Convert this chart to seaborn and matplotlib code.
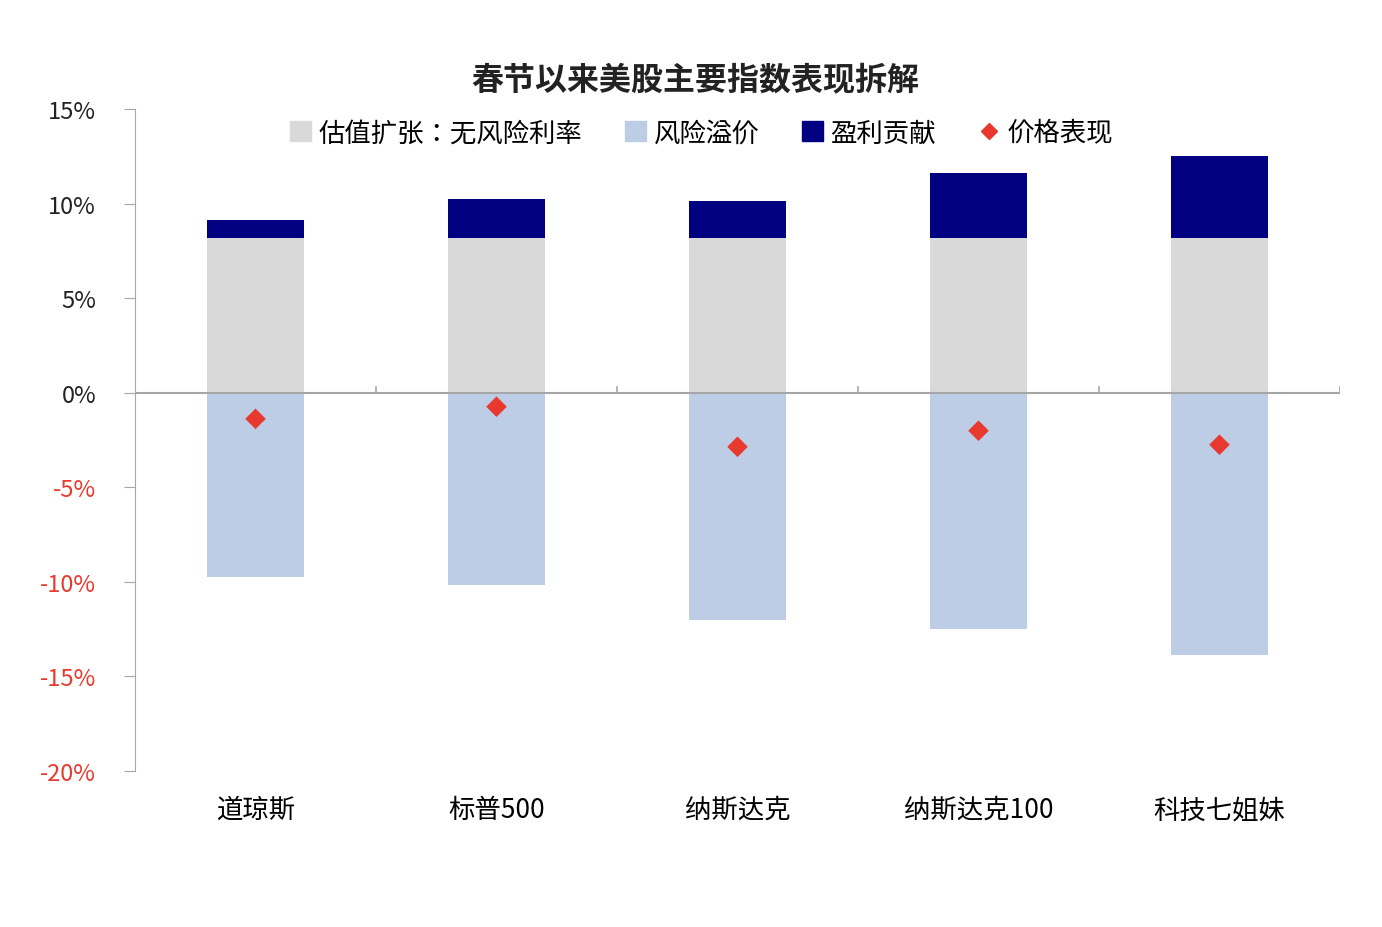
import matplotlib
matplotlib.use("Agg")
import matplotlib.pyplot as plt
from matplotlib import font_manager as fm
import seaborn as sns
import numpy as np
from matplotlib.lines import Line2D
from matplotlib.patches import Patch

cjk = None
for f in fm.fontManager.ttflist:
    if "CJK" in f.name and ("SC" in f.name or cjk is None):
        cjk = f.name
for f in fm.findSystemFonts():
    if cjk is None and "CJK" in f:
        fm.fontManager.addfont(f)
        cjk = fm.FontProperties(fname=f).get_name()
plt.rcParams["font.family"] = [cjk or "Noto Sans CJK SC", "DejaVu Sans"]
plt.rcParams["axes.unicode_minus"] = False

categories = ["道琼斯", "标普500", "纳斯达克", "纳斯达克100", "科技七姐妹"]
rate_part = [8.2, 8.2, 8.2, 8.2, 8.2]
risk_premium = [-9.74, -10.16, -12.0, -12.49, -13.86]
earnings = [0.95, 2.06, 1.96, 3.44, 4.29]
price = [-1.38, -0.74, -2.86, -2.01, -2.75]
yticks = [-20, -15, -10, -5, 0, 5, 10, 15]

C_GRAY, C_BLUE, C_NAVY, C_RED = "#d9d9d9", "#bdcde5", "#000080", "#e8392e"

fig = plt.figure(figsize=(13.82, 9.28), dpi=100)
ax = fig.add_axes([135/1382, 1-772/928, (1340-135)/1382, (772-110)/928])
x = np.arange(len(categories))
sns.barplot(x=categories, y=rate_part, color=C_GRAY, width=0.4, ax=ax, saturation=1)
sns.barplot(x=categories, y=risk_premium, color=C_BLUE, width=0.4, ax=ax, saturation=1)
sns.barplot(x=categories, y=earnings, bottom=rate_part, color=C_NAVY, width=0.4, ax=ax, saturation=1)
sns.scatterplot(x=x, y=price, marker="D", s=110, color=C_RED, edgecolor="none", ax=ax, zorder=5)

ax.set_ylim(-20, 15)
ax.set_xlim(-0.5, 4.5)
ax.set_yticks(yticks)
ax.set_yticklabels([f"{v}%" for v in yticks], fontsize=17)
for lbl, v in zip(ax.get_yticklabels(), yticks):
    lbl.set_color(C_RED if v < 0 else "#222222")
ax.axhline(0, color="#a6a6a6", lw=1.5, zorder=3)
for b in [0.5, 1.5, 2.5, 3.5, 4.5]:
    ax.plot([b, b], [0, 0.3], color="#a6a6a6", lw=1.2, zorder=3)
ax.tick_params(axis="y", length=8, color="#a6a6a6", pad=20)
ax.tick_params(axis="x", length=0, labelsize=19, pad=18)
for s in ["top", "right", "bottom"]:
    ax.spines[s].set_visible(False)
ax.spines["left"].set_color("#a6a6a6")
ax.set_xlabel(""); ax.set_ylabel("")

handles = [Patch(color=C_GRAY, label="估值扩张：无风险利率"),
           Patch(color=C_BLUE, label="风险溢价"),
           Patch(color=C_NAVY, label="盈利贡献"),
           Line2D([], [], marker="D", color=C_RED, ls="none", markersize=8, label="价格表现")]
ax.legend(handles=handles, ncol=4, loc="upper center", bbox_to_anchor=(0.47, 1.02),
          frameon=False, fontsize=19, handlelength=0.8, handleheight=0.8,
          handletextpad=0.3, columnspacing=1.6)
fig.text(0.503, 1-80/928, "春节以来美股主要指数表现拆解", ha="center", va="center",
         fontsize=23, fontweight="bold", color="#222222")
fig.savefig("out.png", dpi=100)
